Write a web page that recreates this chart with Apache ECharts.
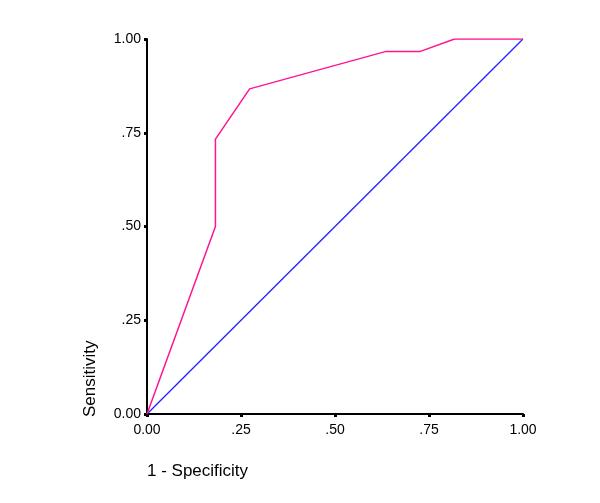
<!DOCTYPE html>
<html>
<head>
<meta charset="utf-8">
<script src="https://cdn.jsdelivr.net/npm/echarts@6/dist/echarts.min.js"></script>
<style>
html, body { margin: 0; padding: 0; background: #fff; }
#chart { width: 600px; height: 503px; }
</style>
</head>
<body>
<div id="chart"></div>
<script>
// ROC curve points (1 - specificity, sensitivity)
const fpr = [0, 0.182, 0.182, 0.273, 0.636, 0.727, 0.818, 1]
const tpr = [0, 0.5, 0.733, 0.867, 0.967, 0.967, 1, 1]
// reference diagonal
const refX = [0, 1]
const refY = [0, 1]

const fmt = v => v === 0 ? '0.00' : (v === 1 ? '1.00' : '.' + Math.round(v * 100))
const font = '"Liberation Sans", Arial, sans-serif'

const chart = echarts.init(document.getElementById('chart'))
chart.setOption({
    animation: false,
    grid: { left: 147, right: 77, top: 39, bottom: 89 },
    xAxis: {
        type: 'value', min: 0, max: 1, interval: 0.25,
        splitLine: { show: false },
        axisLine: { show: true, lineStyle: { color: '#000', width: 2 } },
        axisTick: { show: true, length: 3, lineStyle: { color: '#000', width: 3 } },
        axisLabel: { formatter: fmt, color: '#000', fontSize: 14, fontFamily: font, margin: 9 }
    },
    yAxis: {
        type: 'value', min: 0, max: 1, interval: 0.25,
        splitLine: { show: false },
        axisLine: { show: true, lineStyle: { color: '#000', width: 2 } },
        axisTick: { show: true, length: 3, lineStyle: { color: '#000', width: 3 } },
        axisLabel: { formatter: fmt, color: '#000', fontSize: 14, fontFamily: font, margin: 6 }
    },
    graphic: [
        { type: 'text', left: 147, top: 463, style: { text: '1 - Specificity', fontSize: 17, fontFamily: font, fill: '#000' } },
        { type: 'text', x: 82, y: 417, rotation: Math.PI / 2, style: { text: 'Sensitivity', fontSize: 17, fontFamily: font, fill: '#000', verticalAlign: 'top' } }
    ],
    series: [
        {
            type: 'line', symbol: 'none',
            data: refX.map((x, i) => [x, refY[i]]),
            lineStyle: { color: '#2222ff', width: 1.3 }
        },
        {
            type: 'line', symbol: 'none',
            data: fpr.map((x, i) => [x, tpr[i]]),
            lineStyle: { color: '#ff1493', width: 1.5 }
        }
    ]
})
</script>
</body>
</html>
